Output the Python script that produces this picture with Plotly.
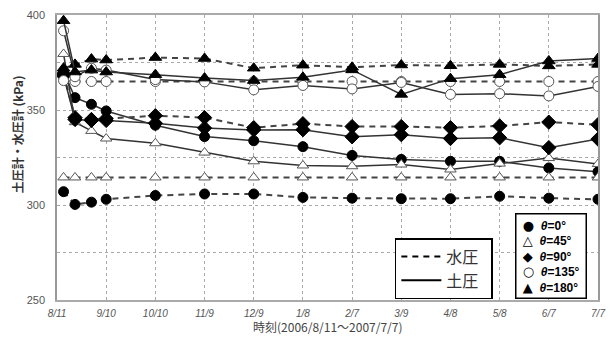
import plotly.graph_objects as go

# ---- data ----
days = [4, 11, 21, 30, 60, 90, 120, 150, 180, 210, 240, 270, 300, 330]
tick_days = [0, 30, 60, 90, 120, 150, 180, 210, 240, 270, 300, 330]
tick_labels = ["8/11", "9/10", "10/10", "11/9", "12/9", "1/8", "2/7", "3/9", "4/8", "5/8", "6/7", "7/7"]
y_ticks = [250, 275, 300, 325, 350, 375, 400]
y_tick_labels = ["250", "", "300", "", "350", "", "400"]

water_0 = [307, 300.3, 301.5, 303, 305, 305.8, 305.8, 304, 303.6, 303.3, 303.3, 304.6, 303.6, 303]
water_45 = [314.5, 314.5, 314.5, 314.5, 314.5, 314.5, 314.5, 314.5, 314.5, 314.5, 314.5, 314.5, 314.5, 314.5]
water_90 = [369, 346, 345, 345.5, 347, 346, 340.7, 342.8, 341.3, 341.3, 340.7, 341.6, 343.6, 342.3]
water_135 = [365.5, 365, 365, 365, 365, 365, 365, 365, 365, 365, 365, 365, 365, 365]
water_180 = [372, 374, 376.8, 376.3, 377.6, 377.1, 372, 373.6, 372.5, 373.7, 373.3, 374, 373.2, 374]

earth_0 = [370, 356.5, 353, 349.5, 342, 336, 333.8, 330.7, 326.1, 324, 323, 323, 319.5, 317.5]
earth_45 = [379.5, 343.6, 339, 335, 332.5, 327.6, 323, 320.8, 320.4, 321.3, 318.7, 321.8, 324.7, 321.6]
earth_90 = [368, 345, 344.5, 344.5, 343, 340.5, 339.5, 339.6, 335.9, 337, 335, 335.4, 330.2, 334.7]
earth_135 = [391.7, 367.5, 372, 371, 366, 364.8, 360.6, 362.9, 361.1, 364.5, 358.2, 358.6, 357.4, 362.4]
earth_180 = [397, 370, 371, 370, 368.6, 366.8, 365.5, 367.2, 371.1, 358.2, 366.5, 368.6, 375.8, 377.1]

angles = ["0°", "45°", "90°", "135°", "180°"]
legend_glyphs = ["●", "△", "◆", "○", "▲"]
water = [water_0, water_45, water_90, water_135, water_180]
earth = [earth_0, earth_45, earth_90, earth_135, earth_180]

# ---- styles ----
symbols = ["circle", "triangle-up", "diamond", "circle", "triangle-up"]
fills = ["black", "white", "black", "white", "black"]
sizes = [10, 10, 11, 10, 11]

fig = go.Figure()

for i in range(5):
    mk = dict(symbol=symbols[i], color=fills[i], size=sizes[i],
              line=dict(color="black" if fills[i] == "black" else "#555", width=1))
    fig.add_trace(go.Scatter(x=days, y=water[i], mode="lines+markers",
                             line=dict(color="#444", width=2, dash="6px,5px"),
                             marker=mk, showlegend=False, hoverinfo="skip"))
    fig.add_trace(go.Scatter(x=days, y=earth[i], mode="lines+markers",
                             line=dict(color="#333", width=1.5),
                             marker=mk, showlegend=False, hoverinfo="skip"))

# line-style legend
fig.add_trace(go.Scatter(x=[None], y=[None], mode="lines", name="水圧\u00a0\u00a0",
                         line=dict(color="black", width=2, dash="6px,5px"), legend="legend2"))
fig.add_trace(go.Scatter(x=[None], y=[None], mode="lines", name="土圧\u00a0\u00a0",
                         line=dict(color="black", width=2), legend="legend2"))

# marker legend as a bordered text box
rows = []
for g, a in zip(legend_glyphs, angles):
    rows.append("\u00a0<span style='font-family:DejaVu Sans;font-size:13px'>" + g + "</span>"
                "\u00a0\u00a0<b><i>θ</i>=" + a + "</b>\u00a0")
marker_legend_text = "<br>".join(rows)

fig.update_layout(
    width=614, height=340,
    margin=dict(l=57, r=11, t=9, b=40),
    paper_bgcolor="white", plot_bgcolor="white",
    font=dict(family="Liberation Sans, Arial", color="#333"),
    showlegend=True,
    xaxis=dict(range=[0, 330], tickvals=tick_days, ticktext=tick_labels,
               tickfont=dict(size=10, color="#555", style="italic"),
               showgrid=True, gridcolor="#aaa", griddash="dot", gridwidth=1,
               showline=True, linecolor="#aaa", linewidth=1.5, mirror=True,
               zeroline=False, ticks="", ticklabelstandoff=3),
    yaxis=dict(range=[250, 400], tickvals=y_ticks, ticktext=y_tick_labels,
               tickfont=dict(size=11, color="#555"),
               showgrid=True, gridcolor="#aaa", griddash="dot", gridwidth=1,
               showline=True, linecolor="#999", linewidth=1.5, mirror=True,
               zeroline=False, ticks="", ticklabelstandoff=8),
    legend2=dict(x=0.6245, y=0.217, xanchor="left", yanchor="top",
                 bgcolor="white", bordercolor="black", borderwidth=1.5,
                 font=dict(size=16, color="#333", family="Noto Sans CJK JP"),
                 itemwidth=40),
    annotations=[
        dict(text=marker_legend_text, xref="paper", yref="paper",
             x=0.846, y=0.306, xanchor="left", yanchor="top", align="left",
             showarrow=False, bgcolor="white", bordercolor="black", borderwidth=1.5,
             borderpad=3,
             font=dict(size=12, color="black", family="Liberation Sans, Arial")),
        dict(text="時刻(2006/8/11～2007/7/7)", xref="paper", yref="paper",
             x=0.5, y=-0.093, yanchor="middle", showarrow=False,
             font=dict(size=12, color="#444", family="Noto Sans CJK JP")),
        dict(text="土圧計・水圧計 (kPa)", xref="paper", yref="paper",
             x=-0.073, y=0.58, xanchor="center", yanchor="middle", textangle=-90,
             showarrow=False,
             font=dict(size=12, color="#333", family="Noto Sans CJK JP", weight="bold")),
    ],
)

fig.write_html("out.html")
